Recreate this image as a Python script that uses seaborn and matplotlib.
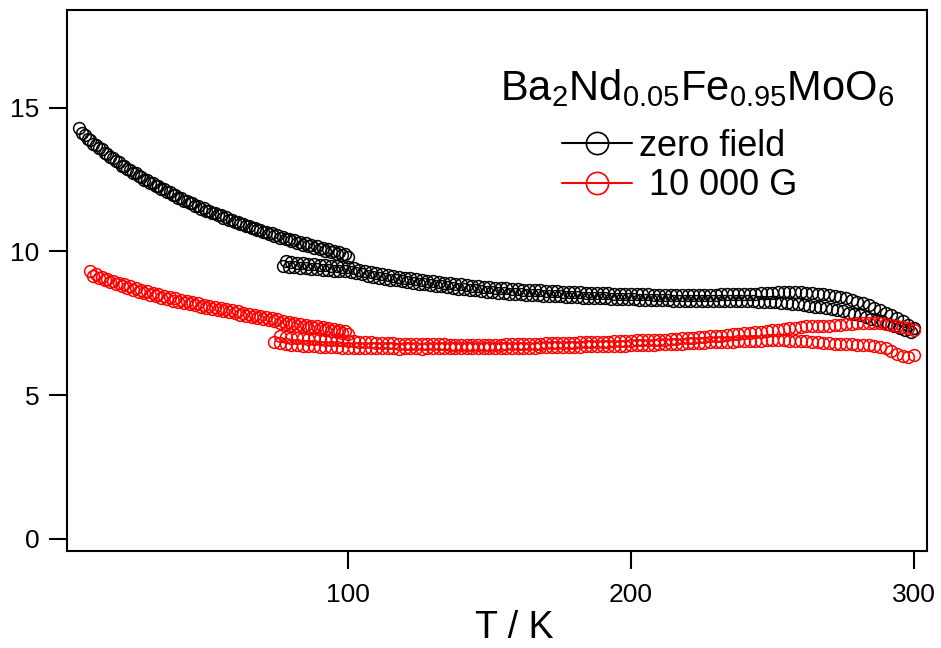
import numpy as np
import pandas as pd
import matplotlib
matplotlib.use("Agg")
import matplotlib.pyplot as plt
from matplotlib.lines import Line2D
import seaborn as sns

# Magnetisation sweeps of Ba2Nd0.05Fe0.95MoO6, two fields, several passes each.
# Each sweep: start temperature / K and values on a fixed temperature step / K
STEP = 2

zero_low_a_T0 = 5
zero_low_a = [14.30, 14.06, 13.88, 13.71, 13.56, 13.40, 13.26, 13.10, 12.97, 12.84,
              12.73, 12.60, 12.49, 12.37, 12.28, 12.16, 12.07, 11.96, 11.87, 11.77,
              11.69, 11.59, 11.51, 11.42, 11.35, 11.26, 11.19, 11.10, 11.03, 10.95,
              10.89, 10.82, 10.76, 10.69, 10.63, 10.56, 10.51, 10.44, 10.39, 10.32,
              10.28, 10.22, 10.18, 10.12, 10.07, 10.01, 9.97, 9.92]

zero_low_b_T0 = 6
zero_low_b = [14.12, 13.92, 13.74, 13.58, 13.43, 13.27, 13.13, 12.98, 12.86, 12.72,
              12.61, 12.48, 12.38, 12.26, 12.16, 12.05, 11.96, 11.85, 11.77, 11.67,
              11.59, 11.49, 11.42, 11.33, 11.26, 11.17, 11.10, 11.02, 10.95, 10.87,
              10.81, 10.73, 10.68, 10.60, 10.54, 10.47, 10.42, 10.35, 10.30, 10.23,
              10.19, 10.12, 10.08, 10.02, 9.98, 9.91, 9.87, 9.80]

zero_high_a_T0 = 77
zero_high_a = [9.50, 9.47, 9.45, 9.43, 9.41, 9.40, 9.38, 9.36, 9.35, 9.33,
               9.31, 9.30, 9.28, 9.25, 9.20, 9.16, 9.12, 9.08, 9.05, 9.02,
               8.99, 8.96, 8.93, 8.90, 8.87, 8.85, 8.82, 8.80, 8.78, 8.75,
               8.73, 8.70, 8.68, 8.66, 8.64, 8.62, 8.60, 8.58, 8.56, 8.55,
               8.53, 8.52, 8.50, 8.49, 8.48, 8.47, 8.46, 8.45, 8.44, 8.43,
               8.42, 8.41, 8.40, 8.39, 8.38, 8.38, 8.37, 8.36, 8.35, 8.35,
               8.34, 8.33, 8.33, 8.32, 8.32, 8.31, 8.30, 8.30, 8.30, 8.29,
               8.29, 8.28, 8.28, 8.28, 8.28, 8.28, 8.28, 8.27, 8.27, 8.27,
               8.27, 8.26, 8.26, 8.26, 8.25, 8.25, 8.25, 8.24, 8.22, 8.20,
               8.18, 8.16, 8.14, 8.11, 8.08, 8.05, 8.02, 7.98, 7.95, 7.91,
               7.87, 7.82, 7.77, 7.72, 7.66, 7.60, 7.54, 7.47, 7.40, 7.33,
               7.26, 7.20]

zero_high_b_T0 = 78
zero_high_b = [9.66, 9.63, 9.61, 9.59, 9.57, 9.56, 9.54, 9.52, 9.50, 9.49,
               9.47, 9.45, 9.41, 9.36, 9.32, 9.28, 9.24, 9.21, 9.18, 9.15,
               9.12, 9.09, 9.06, 9.03, 9.01, 8.98, 8.96, 8.93, 8.91, 8.89,
               8.87, 8.85, 8.83, 8.81, 8.79, 8.77, 8.75, 8.74, 8.72, 8.71,
               8.69, 8.68, 8.67, 8.66, 8.65, 8.64, 8.63, 8.62, 8.61, 8.60,
               8.59, 8.58, 8.57, 8.56, 8.56, 8.55, 8.54, 8.54, 8.53, 8.52,
               8.52, 8.51, 8.51, 8.50, 8.50, 8.49, 8.49, 8.49, 8.48, 8.48,
               8.48, 8.48, 8.48, 8.48, 8.49, 8.49, 8.49, 8.50, 8.50, 8.51,
               8.51, 8.52, 8.52, 8.53, 8.54, 8.55, 8.56, 8.57, 8.58, 8.58,
               8.58, 8.57, 8.56, 8.54, 8.52, 8.50, 8.47, 8.44, 8.40, 8.36,
               8.31, 8.25, 8.19, 8.12, 8.04, 7.96, 7.87, 7.78, 7.68, 7.57,
               7.45, 7.32]

field_low_a_T0 = 9
field_low_a = [9.30, 9.20, 9.12, 9.05, 8.98, 8.91, 8.85, 8.79, 8.73, 8.67,
               8.61, 8.56, 8.51, 8.46, 8.41, 8.36, 8.32, 8.28, 8.23, 8.19,
               8.15, 8.11, 8.07, 8.03, 7.99, 7.95, 7.91, 7.87, 7.83, 7.79,
               7.75, 7.71, 7.67, 7.63, 7.59, 7.55, 7.51, 7.48, 7.45, 7.42,
               7.39, 7.36, 7.33, 7.30, 7.27, 7.24]

field_low_b_T0 = 10
field_low_b = [9.16, 9.07, 8.99, 8.92, 8.85, 8.78, 8.72, 8.66, 8.60, 8.54,
               8.49, 8.44, 8.39, 8.34, 8.29, 8.25, 8.20, 8.16, 8.12, 8.08,
               8.04, 8.00, 7.96, 7.92, 7.88, 7.84, 7.80, 7.76, 7.72, 7.68,
               7.64, 7.60, 7.56, 7.52, 7.48, 7.45, 7.42, 7.38, 7.35, 7.32,
               7.29, 7.26, 7.23, 7.20, 7.17, 7.14]

field_high_a_T0 = 74
field_high_a = [6.85, 6.80, 6.77, 6.75, 6.73, 6.72, 6.70, 6.69, 6.68, 6.67,
                6.66, 6.66, 6.65, 6.65, 6.64, 6.64, 6.63, 6.63, 6.62, 6.62,
                6.62, 6.62, 6.61, 6.62, 6.62, 6.62, 6.61, 6.62, 6.62, 6.62,
                6.62, 6.62, 6.62, 6.62, 6.62, 6.63, 6.63, 6.63, 6.63, 6.63,
                6.63, 6.64, 6.64, 6.64, 6.65, 6.65, 6.65, 6.66, 6.66, 6.66,
                6.67, 6.67, 6.68, 6.68, 6.68, 6.69, 6.69, 6.70, 6.70, 6.71,
                6.71, 6.72, 6.72, 6.73, 6.73, 6.74, 6.75, 6.75, 6.76, 6.77,
                6.77, 6.78, 6.79, 6.80, 6.80, 6.81, 6.82, 6.83, 6.84, 6.85,
                6.85, 6.86, 6.87, 6.88, 6.88, 6.89, 6.89, 6.90, 6.90, 6.90,
                6.90, 6.89, 6.89, 6.88, 6.87, 6.85, 6.84, 6.82, 6.80, 6.79,
                6.78, 6.77, 6.76, 6.75, 6.74, 6.73, 6.71, 6.68, 6.62, 6.52,
                6.43, 6.36, 6.34, 6.38]

field_high_b_T0 = 76
field_high_b = [7.05, 7.02, 7.00, 6.98, 6.97, 6.96, 6.95, 6.94, 6.93, 6.92,
                6.91, 6.90, 6.89, 6.87, 6.86, 6.84, 6.83, 6.82, 6.81, 6.80,
                6.80, 6.79, 6.79, 6.78, 6.78, 6.77, 6.77, 6.76, 6.76, 6.76,
                6.75, 6.75, 6.75, 6.75, 6.75, 6.75, 6.75, 6.75, 6.75, 6.75,
                6.76, 6.76, 6.77, 6.77, 6.78, 6.78, 6.79, 6.80, 6.80, 6.81,
                6.81, 6.82, 6.82, 6.83, 6.84, 6.84, 6.85, 6.85, 6.86, 6.87,
                6.88, 6.88, 6.89, 6.90, 6.90, 6.91, 6.92, 6.92, 6.93, 6.94,
                6.96, 6.97, 6.98, 6.99, 7.01, 7.02, 7.04, 7.05, 7.07, 7.09,
                7.11, 7.13, 7.15, 7.17, 7.19, 7.21, 7.23, 7.25, 7.28, 7.30,
                7.33, 7.35, 7.38, 7.39, 7.40, 7.41, 7.42, 7.42, 7.43, 7.44,
                7.46, 7.48, 7.50, 7.51, 7.51, 7.50, 7.49, 7.47, 7.45, 7.41,
                7.37, 7.33, 7.28]

ZERO = "zero field"
FIELD = " 10 000 G"
field_labels = [ZERO, FIELD]
field_colors = {ZERO: "black", FIELD: "red"}
x_ticks = [100, 200, 300]
y_ticks = [0, 5, 10, 15]
compound = r"Ba$_2$Nd$_{0.05}$Fe$_{0.95}$MoO$_6$"

sweeps = [
    (ZERO, "z1", zero_low_a_T0, zero_low_a),
    (ZERO, "z2", zero_low_b_T0, zero_low_b),
    (ZERO, "z3", zero_high_a_T0, zero_high_a),
    (ZERO, "z4", zero_high_b_T0, zero_high_b),
    (FIELD, "f1", field_low_a_T0, field_low_a),
    (FIELD, "f2", field_low_b_T0, field_low_b),
    (FIELD, "f3", field_high_a_T0, field_high_a),
    (FIELD, "f4", field_high_b_T0, field_high_b),
]

frames = []
for field, sweep, t0, vals in sweeps:
    temps = t0 + STEP * np.arange(len(vals))
    frames.append(pd.DataFrame({"T": temps, "M": vals, "field": field, "sweep": sweep}))
df = pd.concat(frames, ignore_index=True)

sns.set_theme(style="ticks")
plt.rcParams["font.family"] = ["Liberation Sans", "DejaVu Sans"]
plt.rcParams["mathtext.fontset"] = "custom"
plt.rcParams["mathtext.rm"] = "Liberation Sans"
plt.rcParams["mathtext.it"] = "Liberation Sans"
plt.rcParams["mathtext.default"] = "regular"
for key in ["text.color", "axes.labelcolor", "xtick.color", "ytick.color", "axes.edgecolor"]:
    plt.rcParams[key] = "black"

fig = plt.figure(figsize=(9.41, 6.48), dpi=100)
ax = fig.add_axes([0.0712, 0.150, 0.9138, 0.8346])

for field in field_labels:
    sub = df[df["field"] == field]
    sns.lineplot(data=sub, x="T", y="M", units="sweep", estimator=None, sort=False,
                 color=field_colors[field], linestyle="none", marker="o",
                 markersize=8.5, markerfacecolor="none",
                 markeredgecolor=field_colors[field], markeredgewidth=1.1,
                 legend=False, ax=ax)

ax.set_xlim(0.7, 304.6)
ax.set_ylim(-0.42, 18.4)
ax.set_xticks(x_ticks)
ax.set_yticks(y_ticks)
ax.set_xlabel("T / K", fontsize=27, labelpad=0)
ax.xaxis.set_label_coords(0.52, -0.110)
ax.set_ylabel("")

for s in ax.spines.values():
    s.set_linewidth(1.5)
ax.tick_params(axis="both", direction="out", length=13, width=1.5, labelsize=19)
ax.tick_params(axis="y", pad=7)
ax.tick_params(axis="x", pad=10)

ax.text(0.733, 0.834, compound, transform=ax.transAxes, ha="center",
        va="baseline", fontsize=30)

handles = [Line2D([0], [0], color=field_colors[f], lw=1.5, marker="o",
                  markersize=16, markerfacecolor="none",
                  markeredgecolor=field_colors[f], markeredgewidth=1.2)
           for f in field_labels]
ax.legend(handles, field_labels, loc="center left", bbox_to_anchor=(0.546, 0.711),
          frameon=False, fontsize=26, handlelength=1.95, handletextpad=0.2,
          labelspacing=0.12, borderpad=0.2)

fig.savefig("out.png", dpi=100)
